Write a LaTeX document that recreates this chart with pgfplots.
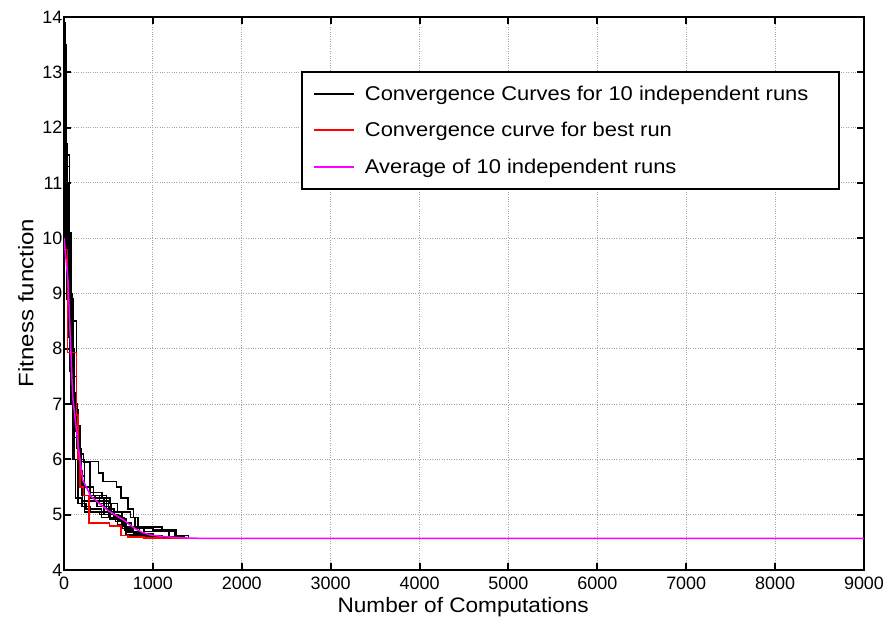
\documentclass[border=0pt]{standalone}
\usepackage{fontspec}
\setmainfont{Liberation Sans}
\newfontfamily\legfont[FakeStretch=1.1]{Liberation Sans}
\newfontfamily\xlabfont[FakeStretch=1.08]{Liberation Sans}
\newfontfamily\ylabfont[FakeStretch=1.15]{Liberation Sans}
\usepackage{pgfplots}
\pgfplotsset{compat=1.18}
\definecolor{pmag}{rgb}{1,0,1}
\definecolor{pred}{rgb}{1,0,0}
\begin{document}
\begin{tikzpicture}
\begin{axis}[
  scale only axis, width=800bp, height=553bp,
  xmin=0, xmax=9000, ymin=4, ymax=14,
  xtick={0,1000,...,9000}, ytick={4,5,...,14},
  grid=major, major grid style={dotted, gray!70, line width=0.9bp},
  axis line style={line width=1.9bp},
  tick style={black, line width=1.9bp}, major tick length=7bp,
  tick align=inside,
  /pgf/number format/assume math mode=true,
  scaled x ticks=false,
  x tick label style={/pgf/number format/1000 sep={}, inner sep=3bp, yshift=-4bp},
  y tick label style={inner sep=1.5bp},
  ticklabel style={font=\fontsize{18}{18}\selectfont},
  xlabel={Number of Computations}, ylabel={Fitness function},
  every axis x label/.style={at={(axis description cs:0.499,-0.076)}, anchor=base, font=\xlabfont\fontsize{21}{21}\selectfont},
  every axis y label/.style={at={(axis description cs:-0.0475,0.483)}, anchor=center, rotate=90, font=\ylabfont\fontsize{21}{21}\selectfont},
  legend style={at={(axis description cs:0.29625,0.9024)}, anchor=north west, draw=black, line width=1.9bp,
    font=\legfont\fontsize{20}{20}\selectfont, row sep=16.5bp, inner xsep=11bp, inner ysep=12bp},
  legend cell align=left,
  legend image code/.code={\draw[#1, line width=2bp] (0bp,0bp) -- (40bp,0bp);\path[draw=none, fill=none] (0bp,0bp) rectangle (49bp,0.1bp);},
  every axis plot/.append style={line width=1.5bp},
]
% 10 independent runs
\addplot[black, const plot] coordinates {(0,13.9)(15,12.5)(30,11.0)(50,9.5)(70,8.5)(100,7.2)(130,6.5)(160,5.96)(390,5.75)(440,5.6)(590,5.5)(640,5.3)(720,5.1)(780,4.95)(830,4.78)(1100,4.7)(1250,4.62)(1400,4.57)(9000,4.57)};
\addlegendentry{Convergence Curves for 10 independent runs\hspace*{18bp}}
\addplot[black, const plot, forget plot] coordinates {(0,13.2)(30,11.3)(60,9.0)(90,8.0)(110,7.0)(150,6.5)(180,6.1)(220,5.95)(290,5.4)(430,5.3)(520,5.2)(600,5.05)(750,4.95)(800,4.75)(1000,4.72)(1260,4.6)(1350,4.57)(9000,4.57)};
\addplot[black, const plot, forget plot] coordinates {(0,12.0)(20,10.5)(50,8.8)(80,7.0)(120,6.0)(160,5.6)(220,5.35)(400,5.2)(530,5.05)(650,4.92)(700,4.78)(900,4.7)(1180,4.6)(1300,4.57)(9000,4.57)};
\addplot[black, const plot, forget plot] coordinates {(0,11.5)(40,9.5)(70,8.0)(100,6.8)(140,6.2)(190,5.5)(300,5.3)(450,5.0)(610,4.9)(690,4.7)(850,4.62)(1050,4.58)(1200,4.57)(9000,4.57)};
\addplot[black, const plot, forget plot] coordinates {(0,10.8)(30,9.0)(60,7.6)(110,6.6)(150,5.8)(200,5.35)(350,5.25)(500,5.0)(600,4.82)(700,4.68)(900,4.6)(1100,4.57)(9000,4.57)};
\addplot[black, const plot, forget plot] coordinates {(0,11.0)(20,9.8)(50,8.2)(80,7.0)(100,6.0)(130,5.3)(200,5.15)(300,5.05)(500,4.95)(680,4.72)(780,4.65)(1000,4.6)(1200,4.57)(9000,4.57)};
\addplot[black, const plot, forget plot] coordinates {(0,12.8)(30,10.0)(70,8.6)(100,7.5)(140,6.3)(170,5.7)(230,5.5)(330,5.35)(480,5.1)(560,4.98)(660,4.85)(760,4.75)(850,4.65)(1000,4.6)(1250,4.57)(9000,4.57)};
\addplot[black, const plot, forget plot] coordinates {(0,10.2)(30,8.9)(90,8.0)(120,6.4)(150,5.55)(210,5.25)(370,5.15)(520,4.92)(650,4.75)(780,4.62)(950,4.58)(1100,4.57)(9000,4.57)};
\addplot[black, const plot, forget plot] coordinates {(0,13.5)(25,11.5)(60,8.9)(100,8.5)(140,6.6)(180,6.0)(230,5.05)(400,5.0)(580,4.88)(700,4.7)(850,4.62)(1100,4.57)(9000,4.57)};
\addplot[black, const plot, forget plot] coordinates {(0,11.7)(40,10.1)(80,7.5)(110,6.9)(160,5.2)(250,5.1)(420,4.95)(600,4.8)(700,4.63)(850,4.59)(1000,4.57)(9000,4.57)};
% best run
\addplot[pred, const plot] coordinates {(0,9.8)(40,7.93)(140,6.8)(160,6.0)(180,5.5)(220,5.35)(280,4.85)(510,4.8)(640,4.62)(720,4.6)(900,4.58)(1100,4.57)(9000,4.57)};
\addlegendentry{Convergence curve for best run}
% average
\addplot[pmag] coordinates {(0,10.0)(45,9.24)(98,7.13)(161,6.23)(210,5.63)(304,5.33)(400,5.2)(492,5.08)(580,4.99)(675,4.9)(787,4.76)(880,4.68)(979,4.63)(1150,4.6)(1350,4.58)(1600,4.57)(9000,4.57)};
\addlegendentry{Average of 10 independent runs}
\end{axis}
\pgfresetboundingbox
\path[use as bounding box] (current axis.south west) ++(-64bp,-47bp) rectangle ++(886bp,617bp);
\end{tikzpicture}
\end{document}
